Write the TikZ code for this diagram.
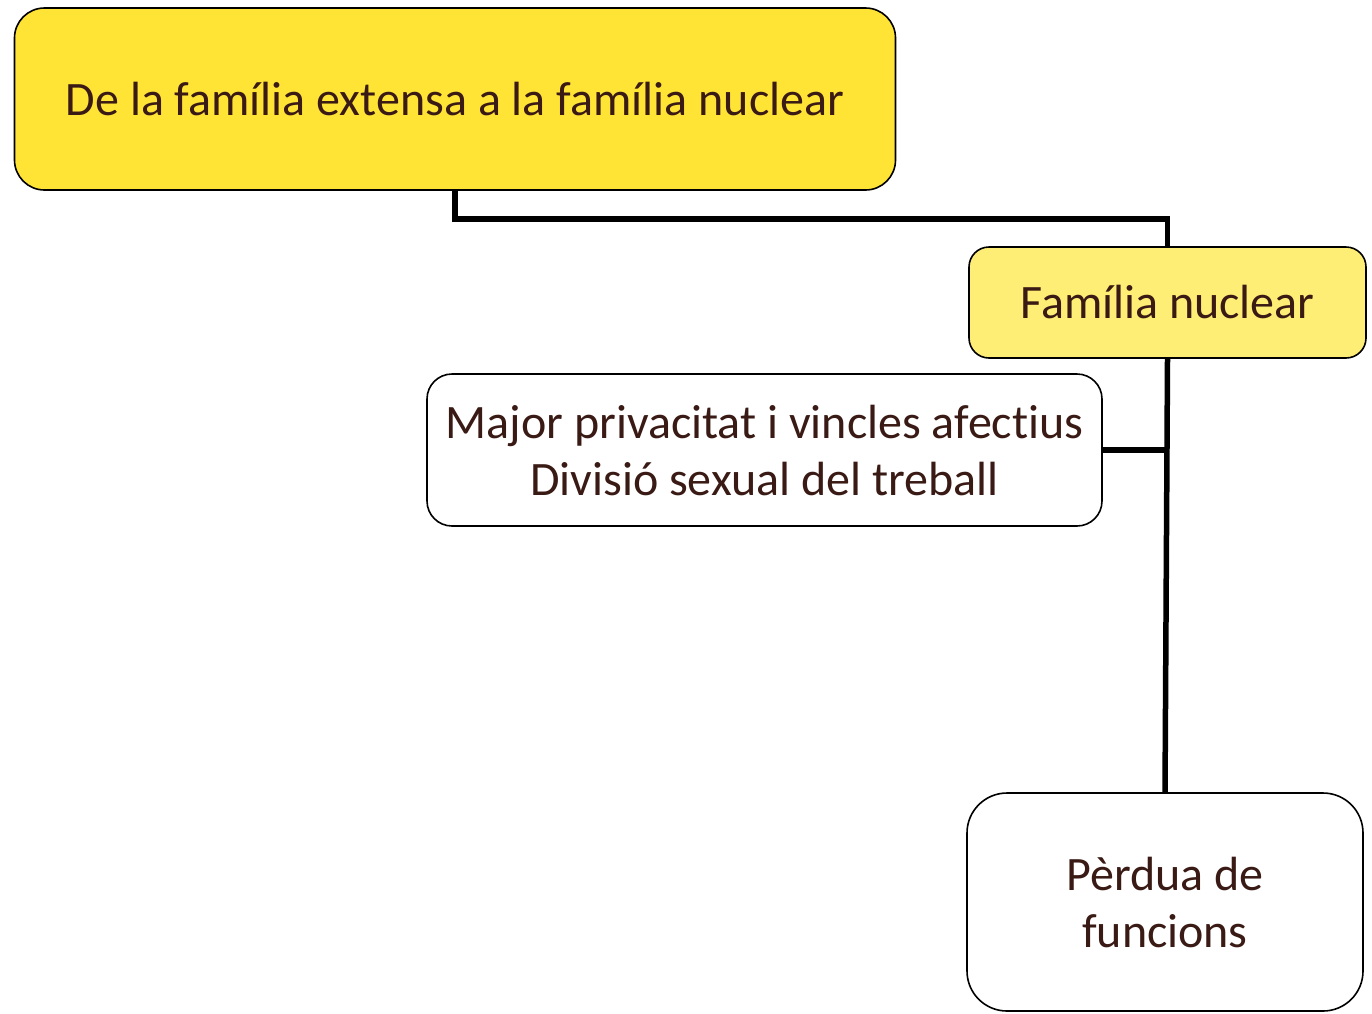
\documentclass[tikz,border=0pt]{standalone}
\usepackage{fontspec}
\setmainfont{Carlito}[Ligatures=CommonOff]
\usepackage{tikz}
\usepackage{xcolor}
\definecolor{boxtext}{HTML}{3A1A14}
\definecolor{topyellow}{HTML}{FFE335}
\definecolor{lightyellow}{HTML}{FFEE75}
\tikzset{
    rounded-box/.style = {draw=black, line width=1.6pt, fill=white, rectangle, rounded corners=30pt, text=boxtext, align=center, inner sep=0pt, font=\fontsize{48}{57}\selectfont},
    link-line/.style = {draw=black, line width=5.5pt},
}

\begin{document}
\begin{tikzpicture}[x=1pt,y=-1pt]
\useasboundingbox (0,0) rectangle (1372,1013);
\node [rounded-box, fill=topyellow, minimum width=881pt, minimum height=182pt] (extensa) at (455,99) {De la família extensa a la família nuclear};
\node [rounded-box, fill=lightyellow, rounded corners=20pt, minimum width=397pt, minimum height=111pt] (nuclear) at (1167.5,302.5) {Família nuclear};
\node [rounded-box, rounded corners=25pt, minimum width=675pt, minimum height=152pt] (privacitat) at (764.5,450) {Major privacitat i vincles afectius\\Divisió sexual del treball};
\node [rounded-box, rounded corners=40pt, minimum width=396pt, minimum height=218pt] (funcions) at (1165,902) {Pèrdua de\\funcions};
\draw [link-line] (extensa.south) -- ++(0,28) -| (nuclear.north);
\draw [link-line] (nuclear.south) -- (funcions.north);
\draw [link-line] (privacitat.east) -- (privacitat.east -| nuclear.south);
\end{tikzpicture}
\end{document}
